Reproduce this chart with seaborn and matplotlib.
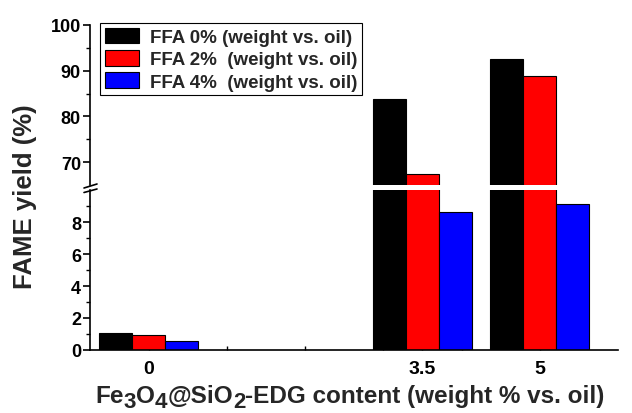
import matplotlib
matplotlib.use("Agg")
import matplotlib.pyplot as plt
import seaborn as sns
import pandas as pd
from matplotlib.patches import Patch
from matplotlib.lines import Line2D
from matplotlib.ticker import FixedLocator

# Catalyst loading (wt% vs. oil) and FAME yields (%) for each free-fatty-acid level
loadings = [0, 3.5, 5]
ffa_labels = ["FFA 0% (weight vs. oil)",
              "FFA 2%  (weight vs. oil)",
              "FFA 4%  (weight vs. oil)"]
yield_ffa0 = [1.05, 83.9, 92.6]
yield_ffa2 = [0.95, 67.5, 88.9]
yield_ffa4 = [0.58, 8.6, 9.1]
bar_colors = ["#000000", "#ff0000", "#0000ff"]
x_tick_labels = ["0", "3.5", "5"]

rows = []
for lab, vals in zip(ffa_labels, [yield_ffa0, yield_ffa2, yield_ffa4]):
    for x, v in zip(loadings, vals):
        rows.append({"loading": x, "ffa": lab, "yield": v})
df = pd.DataFrame(rows)

sns.set_theme(style="ticks")
plt.rcParams["font.family"] = ["Liberation Sans", "DejaVu Sans"]
plt.rcParams["font.weight"] = "bold"
plt.rcParams["axes.edgecolor"] = "black"
plt.rcParams["xtick.color"] = "black"
plt.rcParams["ytick.color"] = "black"

W, H = 632, 414
fig = plt.figure(figsize=(W / 100, H / 100), dpi=100)
left, right = 90 / W, 618 / W
ax_top = fig.add_axes([left, 1 - 186 / H, right - left, (186 - 26) / H])
ax_bot = fig.add_axes([left, 1 - 351 / H, right - left, (351 - 191) / H])

for ax in (ax_top, ax_bot):
    sns.barplot(data=df, x="loading", y="yield", hue="ffa",
                hue_order=ffa_labels, palette=bar_colors, native_scale=True,
                width=0.84, edgecolor="black", linewidth=0.8, saturation=1,
                errorbar=None, legend=False, ax=ax)
    ax.set_xlim(-0.75, 6.0)
    ax.set_xlabel("")
    ax.set_ylabel("")
    for s in ("top", "right"):
        ax.spines[s].set_visible(False)
    ax.spines["left"].set_linewidth(1.2)
    ax.spines["bottom"].set_linewidth(1.2)
    ax.tick_params(axis="y", which="major", direction="out", length=5,
                   width=1.2, labelsize=13, pad=1.5, left=True)
    ax.tick_params(axis="y", which="minor", direction="out", length=3,
                   width=1.0, left=True)
    ax.set_axisbelow(True)

# upper segment of the broken y axis
ax_top.set_ylim(65, 100)
ax_top.set_yticks([70, 80, 90, 100])
ax_top.yaxis.set_minor_locator(FixedLocator([75, 85, 95]))
ax_top.spines["bottom"].set_visible(False)
ax_top.tick_params(axis="x", which="both", bottom=False, labelbottom=False)

# lower segment
ax_bot.set_ylim(0, 10)
ax_bot.set_yticks([0, 2, 4, 6, 8])
ax_bot.yaxis.set_minor_locator(FixedLocator([1, 3, 5, 7, 9]))
ax_bot.set_xticks(loadings)
ax_bot.set_xticklabels(x_tick_labels)
ax_bot.xaxis.set_minor_locator(FixedLocator([1, 2, 3, 4]))
ax_bot.tick_params(axis="x", which="major", direction="in", length=4,
                   width=1.0, labelsize=14, pad=7, bottom=True)
ax_bot.tick_params(axis="x", which="minor", direction="in", length=3,
                   width=1.0, bottom=True)

# break marks on the y axis
for y0, y1 in [(189, 185), (193.5, 190)]:
    fig.add_artist(Line2D([84 / W, 97 / W], [1 - y0 / H, 1 - y1 / H],
                          color="black", lw=1.2, transform=fig.transFigure))

# legend
handles = [Patch(facecolor=c, edgecolor="black", linewidth=0.8) for c in bar_colors]
leg = ax_top.legend(handles, ffa_labels, loc="upper left",
                    bbox_to_anchor=(100 / W, 1 - 24 / H),
                    bbox_transform=fig.transFigure, frameon=True,
                    fancybox=False, edgecolor="black", framealpha=1,
                    prop={"weight": "bold", "size": 13.5},
                    handlelength=1.85, handleheight=0.9, borderpad=0.25,
                    labelspacing=0.22, handletextpad=0.55, borderaxespad=0)
leg.get_frame().set_linewidth(0.8)

# y label spanning both segments
fig.text(25 / W, 1 - 196.5 / H, "FAME yield (%)", rotation=90,
         ha="center", va="center", fontsize=18.5, fontweight="bold")

# x label with lowered digits in the chemical formula
renderer = fig.canvas.get_renderer()
parts = [("Fe", False), ("3", True), ("O", False), ("4", True),
         ("@SiO", False), ("2", True), ("-EDG content (weight % vs. oil)", False)]
size = 17.5
objs, widths = [], []
for s, low in parts:
    t = fig.text(0, 0, s, fontsize=size * (0.92 if low else 1.0),
                 fontweight="bold", ha="left", va="baseline")
    widths.append(t.get_window_extent(renderer).width)
    objs.append((t, low))
x = 350 - sum(widths) / 2
base = 10.5
for (t, low), w in zip(objs, widths):
    t.set_position((x / W, (base - (4.5 if low else 0)) / H))
    x += w

fig.savefig("out.png", dpi=100)
